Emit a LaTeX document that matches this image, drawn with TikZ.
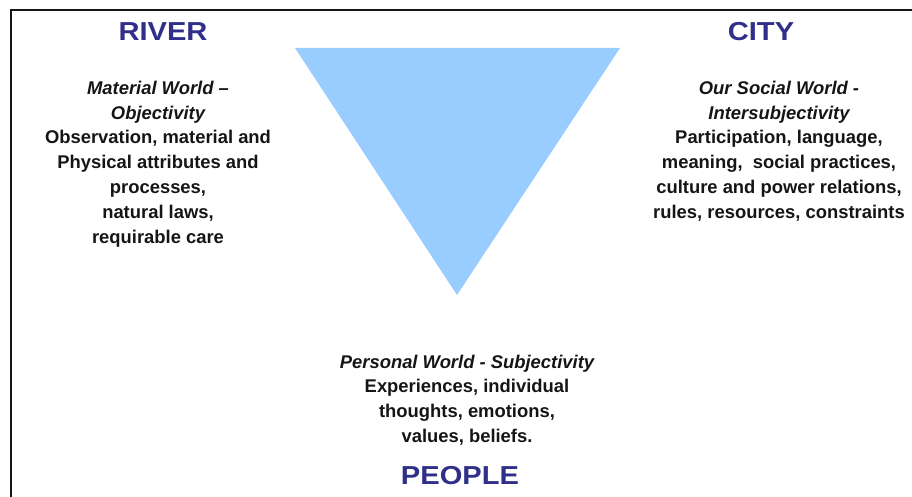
\documentclass[tikz,border=0pt]{standalone}
\usepackage{fontspec}
\setmainfont{Liberation Sans}
\newfontfamily\kopffont[FakeStretch=1.12]{Liberation Sans}
\usetikzlibrary{positioning}
\definecolor{blau}{HTML}{99CCFF}
\definecolor{tinte}{HTML}{30308A}
\definecolor{schwarz}{HTML}{151515}
\tikzset{
  rahmen/.style={schwarz,line width=2.4pt},
  kopf/.style={tinte,font=\kopffont\bfseries\fontsize{26}{30}\selectfont},
  welt/.style={schwarz,align=center,inner sep=0pt,font=\bfseries\fontsize{18.4}{24.8}\selectfont},
  dreieck/.style={fill=blau,draw=none},
}
\begin{document}
\begin{tikzpicture}[x=1pt,y=-1pt]
  \useasboundingbox (0,0) rectangle (912,497);
  \draw[rahmen] (11,497)--(11,10)--(912,10);
  \fill[dreieck] (295,48)--(620,48)--(457,295)--cycle;
  % the three worlds
  \node[kopf] (river) at (163,32) {RIVER};
  \node[welt] (material) at (158,164) {\itshape Material World --\\
    \itshape Objectivity\\
    Observation, material and\\
    Physical attributes and\\
    processes,\\
    natural laws,\\
    requirable care};
  \node[kopf] (city) at (761,32) {CITY};
  \node[welt] (social) at (779,151) {\itshape Our Social World -\\
    \itshape Intersubjectivity\\
    Participation, language,\\
    meaning,\ \ social practices,\\
    culture and power relations,\\
    rules, resources, constraints};
  \node[welt] (personal) at (467,400) {\itshape Personal World - Subjectivity\\
    Experiences, individual\\
    thoughts, emotions,\\
    values, beliefs.};
  \node[kopf] (people) at (460,476) {PEOPLE};
\end{tikzpicture}
\end{document}
